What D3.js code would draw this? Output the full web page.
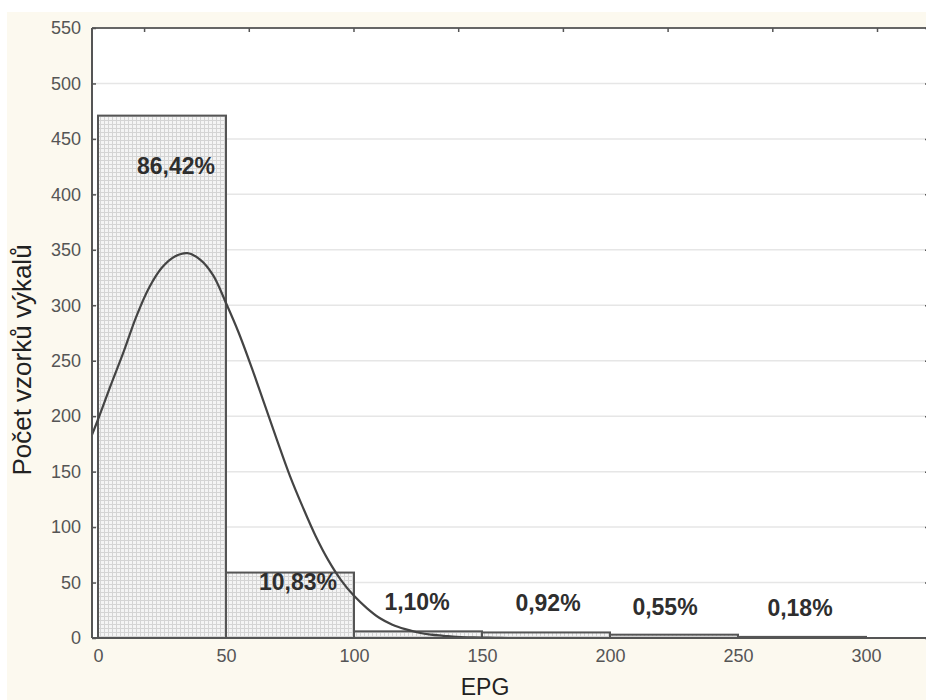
<!DOCTYPE html>
<html>
<head>
<meta charset="utf-8">
<script src="https://cdn.jsdelivr.net/npm/d3@7/dist/d3.min.js"></script>
<style>
  html, body { margin: 0; padding: 0; background: #fff; }
  svg { display: block; }
</style>
</head>
<body>
<svg id="chart" width="926" height="700"></svg>
<script>
// histogram bins (EPG) and counts
var binStart = [0, 50, 100, 150, 200, 250];
var binEnd = [50, 100, 150, 200, 250, 300];
var counts = [471, 59, 6, 5, 3, 1];
var pctLabels = ["86,42%", "10,83%", "1,10%", "0,92%", "0,55%", "0,18%"];

// fitted normal curve
var curveEPG = [-5, 0, 5, 10, 15, 20, 25, 30, 35, 40, 45, 50, 55, 60, 65, 70, 75, 80, 85, 90, 95, 100, 105, 110, 115, 120, 125, 130, 135, 140, 145, 150, 155, 160];
var curveCount = [168, 197, 228, 258, 290, 316, 334, 344, 347, 341, 327, 302, 275, 244, 211, 178, 146, 118, 92, 70, 52, 38, 27, 18, 12, 8, 5, 3, 2, 1, 0.6, 0.4, 0.2, 0];

var xTicks = [0, 50, 100, 150, 200, 250, 300];
var yTicks = [0, 50, 100, 150, 200, 250, 300, 350, 400, 450, 500, 550];
var topTicks = [18, 58.9, 99.8, 140.7, 181.6, 222.5, 263.4, 304.3];

var svg = d3.select("#chart");
var pLeft = 92, pRight = 929, pTop = 28, pBottom = 638;

var xScale = d3.scaleLinear().domain([0, 300]).range([98, 866]);
var yScale = d3.scaleLinear().domain([0, 550]).range([pBottom, pTop]);

// beige page background
svg.append("rect").attr("x", 7).attr("y", 12).attr("width", 926).attr("height", 700)
    .attr("fill", "#fcf9ef");

// plot area
svg.append("rect").attr("x", pLeft).attr("y", pTop)
    .attr("width", pRight - pLeft).attr("height", pBottom - pTop)
    .attr("fill", "#fff");

var defs = svg.append("defs");
var pat = defs.append("pattern").attr("id", "grid")
    .attr("patternUnits", "userSpaceOnUse")
    .attr("width", 4).attr("height", 4);
pat.append("rect").attr("width", 4).attr("height", 4).attr("fill", "#f4f4f4");
pat.append("path").attr("d", "M0,0.5H4M0.5,0V4")
    .attr("stroke", "#d4d4d4").attr("stroke-width", 1);

defs.append("clipPath").attr("id", "clip")
    .append("rect").attr("x", pLeft).attr("y", pTop)
    .attr("width", pRight - pLeft).attr("height", pBottom - pTop);

// horizontal gridlines
svg.append("g").selectAll("line")
    .data(yTicks.filter(function (d) { return d > 0 && d < 550; }))
    .enter().append("line")
    .attr("x1", pLeft).attr("x2", pRight)
    .attr("y1", function (d) { return yScale(d); })
    .attr("y2", function (d) { return yScale(d); })
    .attr("stroke", "#e6e6e6").attr("stroke-width", 1.5);

// bars
svg.append("g").selectAll("rect")
    .data(counts)
    .enter().append("rect")
    .attr("x", function (d, i) { return xScale(binStart[i]); })
    .attr("width", function (d, i) { return xScale(binEnd[i]) - xScale(binStart[i]); })
    .attr("y", function (d) { return yScale(d); })
    .attr("height", function (d) { return pBottom - yScale(d); })
    .attr("fill", "url(#grid)")
    .attr("stroke", "#555").attr("stroke-width", 2);

// normal curve
var line = d3.line()
    .x(function (d, i) { return xScale(curveEPG[i]); })
    .y(function (d) { return yScale(d); })
    .curve(d3.curveCatmullRom);

svg.append("path")
    .datum(curveCount)
    .attr("clip-path", "url(#clip)")
    .attr("fill", "none")
    .attr("stroke", "#444")
    .attr("stroke-width", 2.2)
    .attr("d", line);

// percentage labels (offsets tuned by eye)
var labelDx = [14, 8, -1, 2, -9, -2];
var labelY = [166, 582, 602, 603, 607, 608];
svg.append("g").selectAll("text")
    .data(pctLabels)
    .enter().append("text")
    .attr("x", function (d, i) { return xScale((binStart[i] + binEnd[i]) / 2) + labelDx[i]; })
    .attr("y", function (d, i) { return labelY[i]; })
    .attr("dy", "0.35em")
    .attr("text-anchor", "middle")
    .attr("font-family", "Liberation Sans, Arial, sans-serif")
    .attr("font-weight", "bold")
    .attr("font-size", 23)
    .attr("fill", "#2e2e2e")
    .text(function (d) { return d; });

// frame lines
svg.append("line").attr("x1", pLeft).attr("x2", pRight).attr("y1", pTop).attr("y2", pTop)
    .attr("stroke", "#666").attr("stroke-width", 2);
svg.append("line").attr("x1", pLeft).attr("x2", pRight).attr("y1", pBottom).attr("y2", pBottom)
    .attr("stroke", "#555").attr("stroke-width", 2);
svg.append("line").attr("x1", pLeft).attr("x2", pLeft).attr("y1", pTop).attr("y2", pBottom)
    .attr("stroke", "#555").attr("stroke-width", 2);
svg.append("line").attr("x1", pRight).attr("x2", pRight).attr("y1", pTop).attr("y2", pBottom)
    .attr("stroke", "#666").attr("stroke-width", 2);

// axes
var yAxis = d3.axisLeft(yScale).tickValues(yTicks).tickSize(-4).tickPadding(11);
var gy = svg.append("g").attr("transform", "translate(" + pLeft + ",0)").call(yAxis);
var yAxisR = d3.axisRight(yScale).tickValues(yTicks).tickSize(-4).tickFormat("");
var gyr = svg.append("g").attr("transform", "translate(" + pRight + ",0)").call(yAxisR);
var xAxis = d3.axisBottom(xScale).tickValues(xTicks).tickSize(0).tickPadding(11);
var gx = svg.append("g").attr("transform", "translate(0," + pBottom + ")").call(xAxis);
var xTop = d3.axisTop(xScale).tickValues(topTicks).tickSize(-4).tickFormat("");
var gt = svg.append("g").attr("transform", "translate(0," + pTop + ")").call(xTop);

[gy, gyr, gx, gt].forEach(function (g) {
    g.select(".domain").remove();
    g.selectAll(".tick line").attr("stroke", "#555").attr("stroke-width", 1.5);
    g.selectAll(".tick text")
        .attr("font-family", "Liberation Sans, Arial, sans-serif")
        .attr("font-size", 18)
        .attr("fill", "#555");
});

// axis titles
svg.append("text")
    .attr("x", 485).attr("y", 695)
    .attr("text-anchor", "middle")
    .attr("font-family", "Liberation Sans, Arial, sans-serif")
    .attr("font-size", 23)
    .attr("fill", "#222")
    .text("EPG");

svg.append("text")
    .attr("transform", "translate(31,360) rotate(-90)")
    .attr("text-anchor", "middle")
    .attr("font-family", "Liberation Sans, Arial, sans-serif")
    .attr("font-size", 26)
    .attr("fill", "#222")
    .text("Počet vzorků výkalů");
</script>
</body>
</html>
